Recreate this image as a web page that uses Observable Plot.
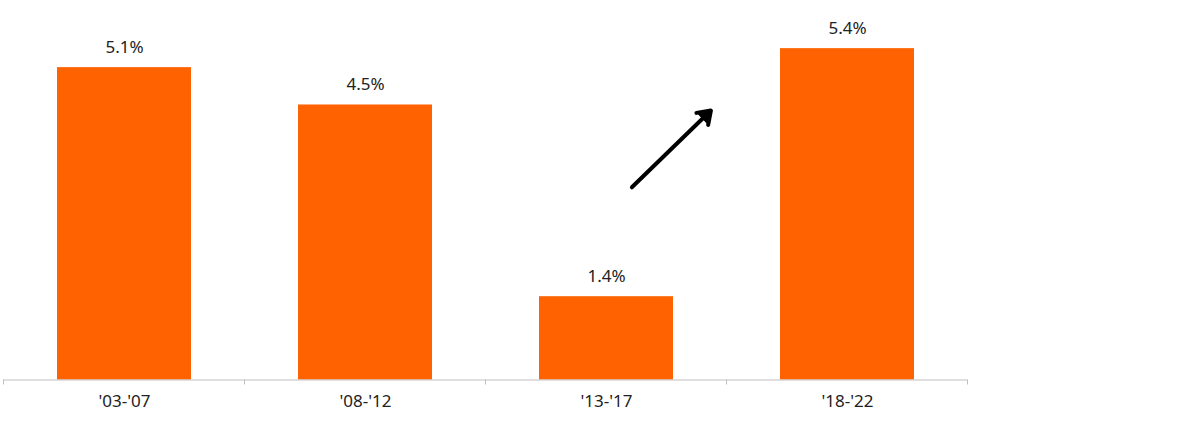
<!DOCTYPE html>
<html><head><meta charset="utf-8">
<script src="https://cdn.jsdelivr.net/npm/d3@7"></script>
<script src="https://cdn.jsdelivr.net/npm/@observablehq/plot@0.6"></script>
<style>body{margin:0;background:#fff;}</style>
</head><body><div id="chart"></div>
<script>
// Data
const periods = ["'03-'07", "'08-'12", "'13-'17", "'18-'22"];
const growth = [5.1, 4.49, 1.36, 5.41];
// Trend arrow annotation (from period, to period, values on the growth axis)
const arrowFrom = ["'13-'17"];
const arrowTo = ["'18-'22"];
const arrowY1 = [2.744];
const arrowY2 = [6.565];

const rows = periods.map((p, i) => ({period: p, value: growth[i]}));
const arrows = arrowFrom.map((f, i) => ({from: f, to: arrowTo[i], y1: arrowY1[i], y2: arrowY2[i]}));

const ORANGE = "#FF6200";
const AXIS = "#bfbfbf";
const TEXT = "#222";

function boundaryTicks(index, scales, values, dims) {
  const x = scales.x, y = scales.y;
  const bw = x.bandwidth();
  const step = x.step ? x.step() : bw / (1 - 0.445);
  const gap = (step - bw) / 2;
  const y0 = y(0);
  const dom = x.domain();
  const xs = dom.map(d => x(d) - gap);
  xs.push(x(dom[dom.length - 1]) + bw + gap);
  const g = d3.create("svg:g");
  g.selectAll("line").data(xs).join("line")
    .attr("x1", d => d).attr("x2", d => d)
    .attr("y1", y0).attr("y2", y0 + 5)
    .attr("stroke", AXIS).attr("stroke-width", 1);
  return g.node();
}

const chart = Plot.plot({
  width: 1200,
  height: 425,
  marginLeft: 3,
  marginRight: 233,
  marginTop: 12,
  marginBottom: 45.5,
  style: {fontFamily: "'Noto Sans', sans-serif", fontSize: "17px", color: TEXT, background: "#fff"},
  x: {domain: periods, paddingInner: 0.445, paddingOuter: 0.2225, label: null},
  y: {domain: [0, 6], axis: null},
  marks: [
    Plot.barY(rows, {x: "period", y: "value", fill: ORANGE}),
    Plot.ruleY([0], {stroke: AXIS, strokeWidth: 1}),
    boundaryTicks,
    Plot.axisX({tickSize: 0, tickPadding: 15, fontSize: 17, fill: TEXT}),
    Plot.text(rows, {x: "period", y: "value", text: d => d3.format(".1f")(d.value) + "%",
      lineAnchor: "bottom", dy: -15, fontSize: 17, fill: TEXT}),
    Plot.arrow(arrows, {x1: "from", x2: "to", y1: "y1", y2: "y2",
      insetStart: 35.4, insetEnd: 190.4, stroke: "#000", fill: "#000", strokeWidth: 4,
      headLength: 5.5, headAngle: 70, strokeLinejoin: "miter"})
  ]
});
document.getElementById("chart").appendChild(chart);
</script>
</body></html>
